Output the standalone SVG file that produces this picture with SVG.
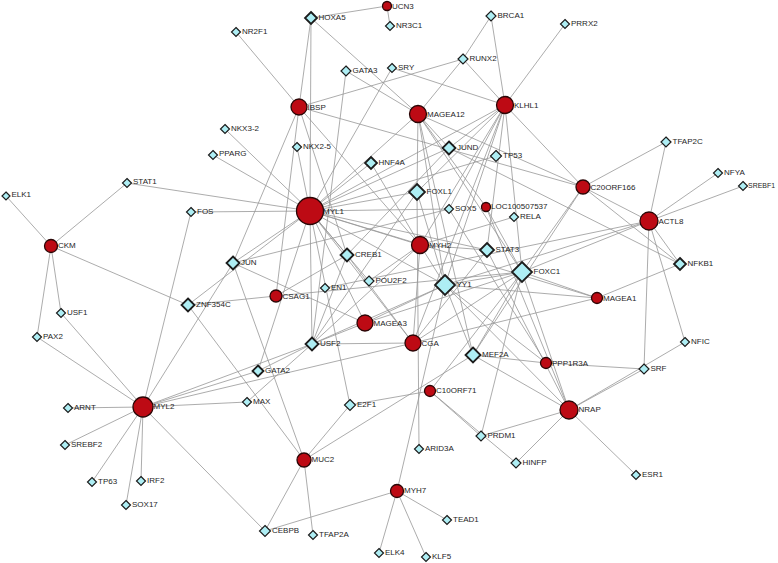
<svg xmlns="http://www.w3.org/2000/svg" width="778" height="563" viewBox="0 0 778 563">
<style>
.e line{stroke:#979797;stroke-width:0.8;fill:none}
.c{fill:#bd0a14;stroke:#2a0606;stroke-width:1.3}
.d{fill:#aeeef4;stroke:#1c1c1c;stroke-width:1.2}
.db{fill:#aeeef4;stroke:#1c1c1c;stroke-width:1.8}
text{font-family:"Liberation Sans",Arial,sans-serif;font-size:8px;fill:#1e1e1e}
</style>
<rect width="778" height="563" fill="#fff"/>
<g id="edges" class="e">
<line x1="387" y1="6" x2="311" y2="18"/>
<line x1="387" y1="6" x2="390" y2="26"/>
<line x1="311" y1="18" x2="299" y2="107"/>
<line x1="311" y1="18" x2="310" y2="211"/>
<line x1="311" y1="18" x2="418" y2="114"/>
<line x1="236" y1="32" x2="299" y2="107"/>
<line x1="346" y1="71" x2="312" y2="344"/>
<line x1="346" y1="71" x2="418" y2="114"/>
<line x1="392" y1="68" x2="310" y2="211"/>
<line x1="392" y1="68" x2="505" y2="105"/>
<line x1="463" y1="59" x2="299" y2="107"/>
<line x1="463" y1="59" x2="491" y2="16"/>
<line x1="463" y1="59" x2="418" y2="114"/>
<line x1="463" y1="59" x2="505" y2="105"/>
<line x1="491" y1="16" x2="505" y2="105"/>
<line x1="565" y1="24" x2="505" y2="105"/>
<line x1="225" y1="129" x2="310" y2="211"/>
<line x1="213" y1="155" x2="310" y2="211"/>
<line x1="297" y1="147" x2="310" y2="211"/>
<line x1="299" y1="107" x2="233" y2="263"/>
<line x1="299" y1="107" x2="276" y2="296"/>
<line x1="299" y1="107" x2="347" y2="255"/>
<line x1="299" y1="107" x2="420" y2="245"/>
<line x1="299" y1="107" x2="583" y2="187"/>
<line x1="127" y1="183" x2="51" y2="246"/>
<line x1="127" y1="183" x2="310" y2="211"/>
<line x1="6" y1="196" x2="51" y2="246"/>
<line x1="51" y1="246" x2="61" y2="313"/>
<line x1="51" y1="246" x2="37" y2="337"/>
<line x1="51" y1="246" x2="188" y2="305"/>
<line x1="191" y1="212" x2="310" y2="211"/>
<line x1="191" y1="212" x2="143" y2="407"/>
<line x1="61" y1="313" x2="143" y2="407"/>
<line x1="37" y1="337" x2="143" y2="407"/>
<line x1="233" y1="263" x2="143" y2="407"/>
<line x1="233" y1="263" x2="310" y2="211"/>
<line x1="188" y1="305" x2="310" y2="211"/>
<line x1="188" y1="305" x2="276" y2="296"/>
<line x1="188" y1="305" x2="304" y2="460"/>
<line x1="233" y1="263" x2="365" y2="323"/>
<line x1="233" y1="263" x2="304" y2="460"/>
<line x1="68" y1="408" x2="143" y2="407"/>
<line x1="65" y1="445" x2="143" y2="407"/>
<line x1="92" y1="482" x2="143" y2="407"/>
<line x1="141" y1="481" x2="143" y2="407"/>
<line x1="126" y1="505" x2="143" y2="407"/>
<line x1="143" y1="407" x2="247" y2="402"/>
<line x1="143" y1="407" x2="258" y2="371"/>
<line x1="143" y1="407" x2="312" y2="344"/>
<line x1="143" y1="407" x2="413" y2="343"/>
<line x1="143" y1="407" x2="265" y2="531"/>
<line x1="304" y1="460" x2="265" y2="531"/>
<line x1="304" y1="460" x2="313" y2="535"/>
<line x1="304" y1="460" x2="350" y2="405"/>
<line x1="304" y1="460" x2="473" y2="355"/>
<line x1="265" y1="531" x2="397" y2="491"/>
<line x1="397" y1="491" x2="447" y2="520"/>
<line x1="397" y1="491" x2="426" y2="557"/>
<line x1="397" y1="491" x2="379" y2="553"/>
<line x1="397" y1="491" x2="445" y2="285"/>
<line x1="350" y1="405" x2="310" y2="211"/>
<line x1="350" y1="405" x2="430" y2="391"/>
<line x1="430" y1="391" x2="481" y2="436"/>
<line x1="430" y1="391" x2="516" y2="463"/>
<line x1="417" y1="192" x2="419" y2="449"/>
<line x1="481" y1="436" x2="569" y2="410"/>
<line x1="516" y1="463" x2="569" y2="410"/>
<line x1="569" y1="410" x2="636" y2="475"/>
<line x1="569" y1="410" x2="644" y2="369"/>
<line x1="569" y1="410" x2="685" y2="342"/>
<line x1="569" y1="410" x2="473" y2="355"/>
<line x1="569" y1="410" x2="445" y2="285"/>
<line x1="569" y1="410" x2="487" y2="250"/>
<line x1="473" y1="355" x2="546" y2="363"/>
<line x1="546" y1="363" x2="644" y2="369"/>
<line x1="644" y1="369" x2="649" y2="221"/>
<line x1="685" y1="342" x2="649" y2="221"/>
<line x1="680" y1="264" x2="649" y2="221"/>
<line x1="680" y1="264" x2="583" y2="187"/>
<line x1="680" y1="264" x2="597" y2="298"/>
<line x1="680" y1="264" x2="449" y2="148"/>
<line x1="649" y1="221" x2="666" y2="142"/>
<line x1="649" y1="221" x2="718" y2="173"/>
<line x1="649" y1="221" x2="743" y2="186"/>
<line x1="649" y1="221" x2="583" y2="187"/>
<line x1="649" y1="221" x2="445" y2="285"/>
<line x1="649" y1="221" x2="522" y2="272"/>
<line x1="583" y1="187" x2="666" y2="142"/>
<line x1="583" y1="187" x2="505" y2="105"/>
<line x1="583" y1="187" x2="418" y2="114"/>
<line x1="583" y1="187" x2="522" y2="272"/>
<line x1="583" y1="187" x2="473" y2="355"/>
<line x1="276" y1="296" x2="522" y2="272"/>
<line x1="276" y1="296" x2="347" y2="255"/>
<line x1="325" y1="288" x2="649" y2="221"/>
<line x1="369" y1="281" x2="310" y2="211"/>
<line x1="369" y1="281" x2="420" y2="245"/>
<line x1="347" y1="255" x2="310" y2="211"/>
<line x1="347" y1="255" x2="413" y2="343"/>
<line x1="347" y1="255" x2="312" y2="344"/>
<line x1="449" y1="148" x2="347" y2="255"/>
<line x1="365" y1="323" x2="310" y2="211"/>
<line x1="365" y1="323" x2="312" y2="344"/>
<line x1="365" y1="323" x2="445" y2="285"/>
<line x1="365" y1="323" x2="522" y2="272"/>
<line x1="505" y1="105" x2="449" y2="148"/>
<line x1="505" y1="105" x2="417" y2="192"/>
<line x1="505" y1="105" x2="310" y2="211"/>
<line x1="505" y1="105" x2="420" y2="245"/>
<line x1="505" y1="105" x2="413" y2="343"/>
<line x1="505" y1="105" x2="445" y2="285"/>
<line x1="505" y1="105" x2="522" y2="272"/>
<line x1="505" y1="105" x2="449" y2="209"/>
<line x1="418" y1="114" x2="449" y2="148"/>
<line x1="418" y1="114" x2="310" y2="211"/>
<line x1="418" y1="114" x2="417" y2="192"/>
<line x1="418" y1="114" x2="473" y2="355"/>
<line x1="418" y1="114" x2="522" y2="272"/>
<line x1="418" y1="114" x2="445" y2="285"/>
<line x1="418" y1="114" x2="486" y2="207"/>
<line x1="449" y1="148" x2="310" y2="211"/>
<line x1="496" y1="156" x2="310" y2="211"/>
<line x1="371" y1="163" x2="310" y2="211"/>
<line x1="371" y1="163" x2="420" y2="245"/>
<line x1="417" y1="192" x2="310" y2="211"/>
<line x1="417" y1="192" x2="312" y2="344"/>
<line x1="417" y1="192" x2="445" y2="285"/>
<line x1="449" y1="209" x2="233" y2="263"/>
<line x1="449" y1="209" x2="546" y2="363"/>
<line x1="486" y1="207" x2="522" y2="272"/>
<line x1="486" y1="207" x2="569" y2="410"/>
<line x1="514" y1="217" x2="420" y2="245"/>
<line x1="487" y1="250" x2="420" y2="245"/>
<line x1="487" y1="250" x2="310" y2="211"/>
<line x1="487" y1="250" x2="505" y2="105"/>
<line x1="487" y1="250" x2="413" y2="343"/>
<line x1="522" y1="272" x2="413" y2="343"/>
<line x1="522" y1="272" x2="473" y2="355"/>
<line x1="522" y1="272" x2="430" y2="391"/>
<line x1="522" y1="272" x2="569" y2="410"/>
<line x1="522" y1="272" x2="445" y2="285"/>
<line x1="522" y1="272" x2="597" y2="298"/>
<line x1="522" y1="272" x2="481" y2="436"/>
<line x1="445" y1="285" x2="310" y2="211"/>
<line x1="445" y1="285" x2="420" y2="245"/>
<line x1="445" y1="285" x2="473" y2="355"/>
<line x1="445" y1="285" x2="546" y2="363"/>
<line x1="445" y1="285" x2="312" y2="344"/>
<line x1="445" y1="285" x2="597" y2="298"/>
<line x1="413" y1="343" x2="310" y2="211"/>
<line x1="413" y1="343" x2="420" y2="245"/>
<line x1="413" y1="343" x2="312" y2="344"/>
<line x1="413" y1="343" x2="597" y2="298"/>
<line x1="312" y1="344" x2="310" y2="211"/>
<line x1="312" y1="344" x2="420" y2="245"/>
<line x1="258" y1="371" x2="310" y2="211"/>
<line x1="258" y1="371" x2="312" y2="344"/>
<line x1="247" y1="402" x2="312" y2="344"/>
<line x1="310" y1="211" x2="597" y2="298"/>
<line x1="310" y1="211" x2="420" y2="245"/>
<line x1="310" y1="211" x2="449" y2="209"/>
</g>
<g id="n-UCN3"><circle class="c" cx="387" cy="6" r="4.5"/><text x="392" y="8.5">UCN3</text></g>
<g id="n-IBSP"><circle class="c" cx="299" cy="107" r="8"/><text x="307.5" y="109.5">IBSP</text></g>
<g id="n-MAGEA12"><circle class="c" cx="418" cy="114" r="8.5"/><text x="427" y="116.5">MAGEA12</text></g>
<g id="n-KLHL1"><circle class="c" cx="505" cy="105" r="8.5"/><text x="514" y="107.5">KLHL1</text></g>
<g id="n-MYL1"><circle class="c" cx="310" cy="211" r="13.5" stroke-width="2"/><text x="323" y="213.5">MYL1</text></g>
<g id="n-C20ORF166"><circle class="c" cx="583" cy="187" r="7"/><text x="590.5" y="189.5">C20ORF166</text></g>
<g id="n-LOC100507537"><circle class="c" cx="486" cy="207" r="4.5"/><text x="491" y="209">LOC100507537</text></g>
<g id="n-ACTL8"><circle class="c" cx="649" cy="221" r="9"/><text x="658.5" y="223.5">ACTL8</text></g>
<g id="n-CKM"><circle class="c" cx="51" cy="246" r="6.5"/><text x="58" y="248">CKM</text></g>
<g id="n-MYH2"><circle class="c" cx="420" cy="245" r="8.5"/><text x="429" y="247.5">MYH2</text></g>
<g id="n-CSAG1"><circle class="c" cx="276" cy="296" r="6"/><text x="282.5" y="298.5">CSAG1</text></g>
<g id="n-MAGEA1"><circle class="c" cx="597" cy="298" r="5.5"/><text x="603" y="300.5">MAGEA1</text></g>
<g id="n-MAGEA3"><circle class="c" cx="365" cy="323" r="8"/><text x="373.5" y="325.5">MAGEA3</text></g>
<g id="n-CGA"><circle class="c" cx="413" cy="343" r="8"/><text x="421.5" y="345.5">CGA</text></g>
<g id="n-PPP1R3A"><circle class="c" cx="546" cy="363" r="5.5"/><text x="552" y="365.5">PPP1R3A</text></g>
<g id="n-C10ORF71"><circle class="c" cx="430" cy="391" r="5.5"/><text x="436" y="393">C10ORF71</text></g>
<g id="n-MYL2"><circle class="c" cx="143" cy="407" r="10" stroke-width="1.6"/><text x="153.5" y="409">MYL2</text></g>
<g id="n-NRAP"><circle class="c" cx="569" cy="410" r="9" stroke-width="1.5"/><text x="578.5" y="411.5">NRAP</text></g>
<g id="n-MUC2"><circle class="c" cx="304" cy="460" r="7"/><text x="311.5" y="462">MUC2</text></g>
<g id="n-MYH7"><circle class="c" cx="397" cy="491" r="6.5"/><text x="404" y="492.5">MYH7</text></g>
<g id="n-HOXA5"><polygon class="db" points="311,12 317,18 311,24 305,18"/><text x="318.5" y="19.5">HOXA5</text></g>
<g id="n-NR3C1"><polygon class="d" points="390,21.5 394.5,26 390,30.5 385.5,26"/><text x="396" y="28">NR3C1</text></g>
<g id="n-BRCA1"><polygon class="d" points="491,11 496,16 491,21 486,16"/><text x="497.5" y="18">BRCA1</text></g>
<g id="n-PRRX2"><polygon class="d" points="565,19.5 569.5,24 565,28.5 560.5,24"/><text x="571" y="26">PRRX2</text></g>
<g id="n-NR2F1"><polygon class="d" points="236,27.5 240.5,32 236,36.5 231.5,32"/><text x="242" y="33.5">NR2F1</text></g>
<g id="n-GATA3"><polygon class="d" points="346,66 351,71 346,76 341,71"/><text x="352.5" y="72.5">GATA3</text></g>
<g id="n-SRY"><polygon class="d" points="392,63.5 396.5,68 392,72.5 387.5,68"/><text x="398" y="69.5">SRY</text></g>
<g id="n-RUNX2"><polygon class="d" points="463,54 468,59 463,64 458,59"/><text x="469.5" y="60.5">RUNX2</text></g>
<g id="n-NKX3-2"><polygon class="d" points="225,124.5 229.5,129 225,133.5 220.5,129"/><text x="231" y="130.5">NKX3-2</text></g>
<g id="n-PPARG"><polygon class="d" points="213,150.5 217.5,155 213,159.5 208.5,155"/><text x="219" y="156">PPARG</text></g>
<g id="n-NKX2-5"><polygon class="d" points="297,142.5 301.5,147 297,151.5 292.5,147"/><text x="303" y="148.5">NKX2-5</text></g>
<g id="n-HNF4A"><polygon class="db" points="371,157 377,163 371,169 365,163"/><text x="378.5" y="164.5">HNF4A</text></g>
<g id="n-JUND"><polygon class="db" points="449,141.5 455.5,148 449,154.5 442.5,148"/><text x="457" y="149.5">JUND</text></g>
<g id="n-TP53"><polygon class="d" points="496,150.5 501.5,156 496,161.5 490.5,156"/><text x="503" y="157.5">TP53</text></g>
<g id="n-TFAP2C"><polygon class="d" points="666,137 671,142 666,147 661,142"/><text x="672.5" y="143.5">TFAP2C</text></g>
<g id="n-NFYA"><polygon class="d" points="718,168.5 722.5,173 718,177.5 713.5,173"/><text x="724" y="174.5">NFYA</text></g>
<g id="n-SREBF1"><polygon class="d" points="743,181.5 747.5,186 743,190.5 738.5,186"/><text x="748" y="187.5" textLength="27" lengthAdjust="spacingAndGlyphs">SREBF1</text></g>
<g id="n-STAT1"><polygon class="d" points="127,178.5 131.5,183 127,187.5 122.5,183"/><text x="133" y="184">STAT1</text></g>
<g id="n-ELK1"><polygon class="d" points="6,192 10,196 6,200 2,196"/><text x="11.5" y="197">ELK1</text></g>
<g id="n-FOS"><polygon class="d" points="191,207.5 195.5,212 191,216.5 186.5,212"/><text x="197" y="213.5">FOS</text></g>
<g id="n-FOXL1"><polygon class="db" points="417,184 425,192 417,200 409,192"/><text x="426.5" y="193.5">FOXL1</text></g>
<g id="n-SOX5"><polygon class="d" points="449,204.5 453.5,209 449,213.5 444.5,209"/><text x="455" y="210.5">SOX5</text></g>
<g id="n-RELA"><polygon class="d" points="514,212.5 518.5,217 514,221.5 509.5,217"/><text x="520" y="218.5">RELA</text></g>
<g id="n-CREB1"><polygon class="db" points="347,248.5 353.5,255 347,261.5 340.5,255"/><text x="355" y="256.5">CREB1</text></g>
<g id="n-JUN"><polygon class="db" points="233,256.5 239.5,263 233,269.5 226.5,263"/><text x="241" y="264.5">JUN</text></g>
<g id="n-POU2F2"><polygon class="d" points="369,276 374,281 369,286 364,281"/><text x="375.5" y="282.5">POU2F2</text></g>
<g id="n-EN1"><polygon class="d" points="325,283.5 329.5,288 325,292.5 320.5,288"/><text x="331" y="289.5">EN1</text></g>
<g id="n-STAT3"><polygon class="db" points="487,243 494,250 487,257 480,250"/><text x="495.5" y="251.5">STAT3</text></g>
<g id="n-FOXC1"><polygon class="db" points="522,262 532,272 522,282 512,272"/><text x="533.5" y="273.5">FOXC1</text></g>
<g id="n-YY1"><polygon class="db" points="445,275 455,285 445,295 435,285"/><text x="456.5" y="286.5">YY1</text></g>
<g id="n-ZNF354C"><polygon class="db" points="188,298.5 194.5,305 188,311.5 181.5,305"/><text x="196" y="306.5">ZNF354C</text></g>
<g id="n-NFKB1"><polygon class="db" points="680,258 686,264 680,270 674,264"/><text x="687.5" y="265.5">NFKB1</text></g>
<g id="n-USF1"><polygon class="d" points="61,308.5 65.5,313 61,317.5 56.5,313"/><text x="67" y="314.5">USF1</text></g>
<g id="n-PAX2"><polygon class="d" points="37,332.5 41.5,337 37,341.5 32.5,337"/><text x="43" y="338.5">PAX2</text></g>
<g id="n-USF2"><polygon class="db" points="312,337.5 318.5,344 312,350.5 305.5,344"/><text x="320" y="345.5">USF2</text></g>
<g id="n-MEF2A"><polygon class="db" points="473,347.5 480.5,355 473,362.5 465.5,355"/><text x="482" y="356.5">MEF2A</text></g>
<g id="n-GATA2"><polygon class="db" points="258,365.5 263.5,371 258,376.5 252.5,371"/><text x="265" y="372.5">GATA2</text></g>
<g id="n-NFIC"><polygon class="d" points="685,337.5 689.5,342 685,346.5 680.5,342"/><text x="691" y="343.5">NFIC</text></g>
<g id="n-SRF"><polygon class="d" points="644,364 649,369 644,374 639,369"/><text x="650.5" y="370.5">SRF</text></g>
<g id="n-MAX"><polygon class="d" points="247,397.5 251.5,402 247,406.5 242.5,402"/><text x="253" y="403.5">MAX</text></g>
<g id="n-E2F1"><polygon class="d" points="350,399.5 355.5,405 350,410.5 344.5,405"/><text x="357" y="406.5">E2F1</text></g>
<g id="n-ARNT"><polygon class="d" points="68,403.5 72.5,408 68,412.5 63.5,408"/><text x="74" y="409.5">ARNT</text></g>
<g id="n-SREBF2"><polygon class="d" points="65,440.5 69.5,445 65,449.5 60.5,445"/><text x="71" y="446.5">SREBF2</text></g>
<g id="n-PRDM1"><polygon class="d" points="481,431 486,436 481,441 476,436"/><text x="487.5" y="437.5">PRDM1</text></g>
<g id="n-ARID3A"><polygon class="d" points="419,444.5 423.5,449 419,453.5 414.5,449"/><text x="425" y="450.5">ARID3A</text></g>
<g id="n-HINFP"><polygon class="d" points="516,458 521,463 516,468 511,463"/><text x="522.5" y="464.5">HINFP</text></g>
<g id="n-ESR1"><polygon class="d" points="636,470.5 640.5,475 636,479.5 631.5,475"/><text x="642" y="476.5">ESR1</text></g>
<g id="n-TP63"><polygon class="d" points="92,477.5 96.5,482 92,486.5 87.5,482"/><text x="98" y="483.5">TP63</text></g>
<g id="n-IRF2"><polygon class="d" points="141,476.5 145.5,481 141,485.5 136.5,481"/><text x="147" y="482.5">IRF2</text></g>
<g id="n-SOX17"><polygon class="d" points="126,500.5 130.5,505 126,509.5 121.5,505"/><text x="132" y="506.5">SOX17</text></g>
<g id="n-TEAD1"><polygon class="d" points="447,515.5 451.5,520 447,524.5 442.5,520"/><text x="453" y="521.5">TEAD1</text></g>
<g id="n-CEBPB"><polygon class="d" points="265,525.5 270.5,531 265,536.5 259.5,531"/><text x="272" y="532.5">CEBPB</text></g>
<g id="n-TFAP2A"><polygon class="d" points="313,530.5 317.5,535 313,539.5 308.5,535"/><text x="319" y="536.5">TFAP2A</text></g>
<g id="n-ELK4"><polygon class="d" points="379,548.5 383.5,553 379,557.5 374.5,553"/><text x="385" y="554.5">ELK4</text></g>
<g id="n-KLF5"><polygon class="d" points="426,552.5 430.5,557 426,561.5 421.5,557"/><text x="432" y="558.5">KLF5</text></g>
</svg>
